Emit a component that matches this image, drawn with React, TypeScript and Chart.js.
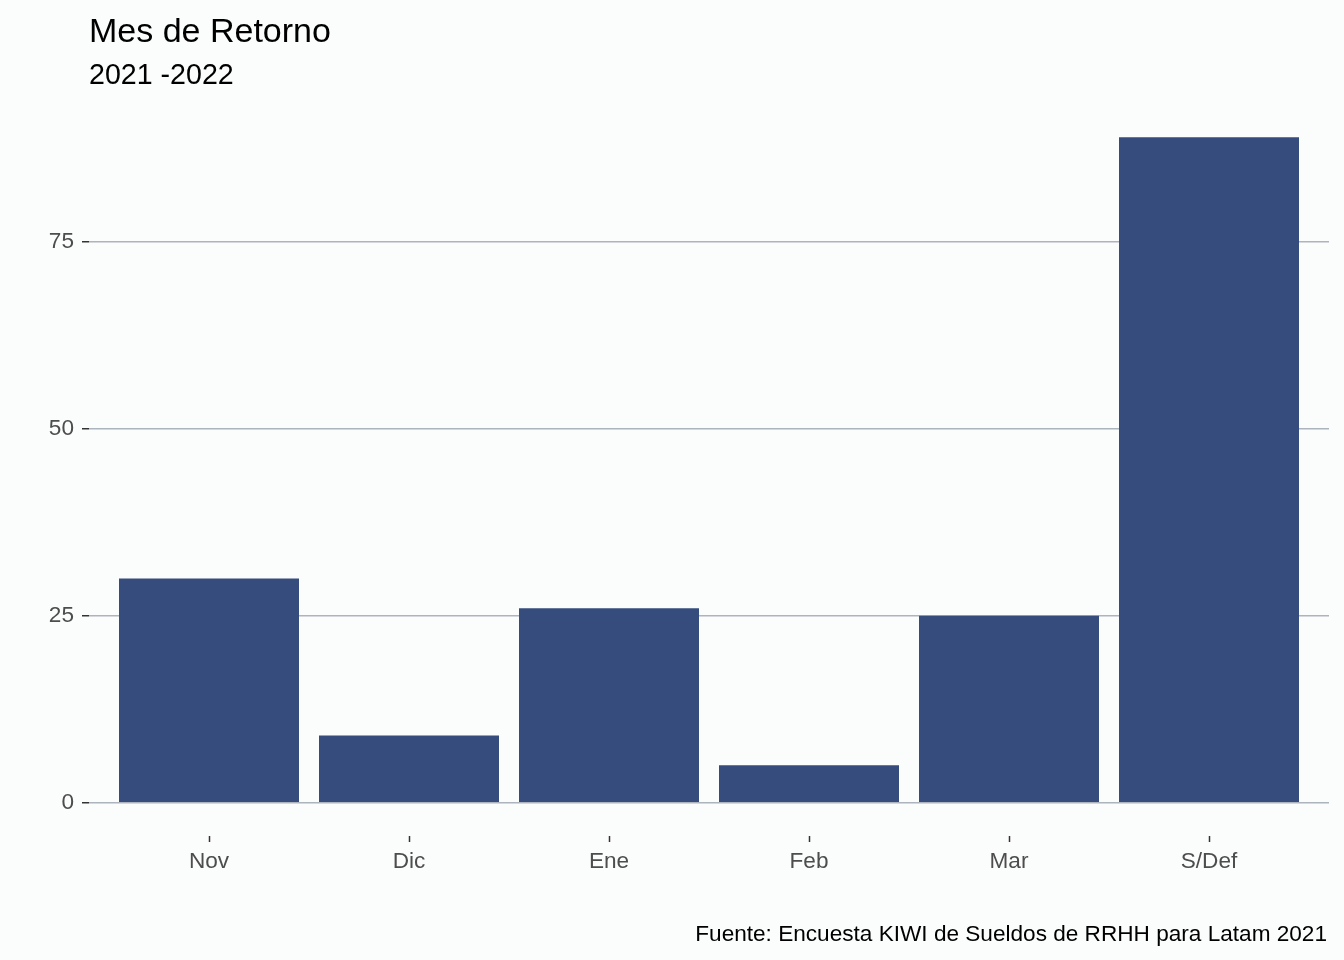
import React, { useEffect, useRef } from "react";
import { Chart, registerables } from "chart.js";

Chart.register(...registerables);

const categories = ["Nov", "Dic", "Ene", "Feb", "Mar", "S/Def"];
const values = [30, 9, 26, 5, 25, 89];
const yTickValues = [0, 25, 50, 75];
const titleText = "Mes de Retorno";
const subtitleText = "2021 -2022";
const captionText = "Fuente: Encuesta KIWI de Sueldos de RRHH para Latam 2021";

const FONT = '"Liberation Sans", Arial, Helvetica, sans-serif';
const BG = "#FBFDFC";

const textPlugin = {
  id: "ggText",
  beforeDraw(chart: any) {
    const { ctx, width, height } = chart;
    ctx.save();
    ctx.fillStyle = BG;
    ctx.fillRect(0, 0, width, height);
    ctx.restore();
  },
  afterDraw(chart: any) {
    const { ctx } = chart;
    const left = chart.chartArea.left;
    const right = chart.chartArea.right;
    ctx.save();
    ctx.fillStyle = "#000000";
    ctx.textBaseline = "alphabetic";
    ctx.textAlign = "left";
    ctx.font = `34px ${FONT}`;
    ctx.fillText(titleText, left, 42);
    ctx.font = `28.6px ${FONT}`;
    ctx.fillText(subtitleText, left, 84);
    ctx.textAlign = "right";
    ctx.font = `22.6px ${FONT}`;
    ctx.fillText(captionText, right - 2, 941);
    ctx.restore();
  },
};

export default function App() {
  const canvasRef = useRef<HTMLCanvasElement | null>(null);

  useEffect(() => {
    if (!canvasRef.current) return;
    const chart = new Chart(canvasRef.current, {
      type: "bar",
      data: {
        datasets: [
          {
            data: categories.map((_, i) => ({ x: i, y: values[i] })),
            backgroundColor: "#354C7C",
            borderWidth: 0,
            barPercentage: 0.9,
            categoryPercentage: 1.0,
          },
        ],
      },
      options: {
        responsive: false,
        animation: false,
        devicePixelRatio: 1,
        layout: { padding: { left: 0, right: 15, top: 104, bottom: 0 } },
        plugins: {
          legend: { display: false },
          tooltip: { enabled: false },
          title: { display: false },
        },
        scales: {
          x: {
            type: "linear",
            min: -0.6,
            max: 5.6,
            offset: false,
            afterBuildTicks: (scale: any) => {
              scale.ticks = categories.map((_, i) => ({ value: i }));
            },
            afterFit: (scale: any) => {
              scale.height = 124;
            },
            border: { display: false },
            grid: {
              offset: false,
              drawOnChartArea: false,
              drawTicks: true,
              tickLength: 6,
              tickColor: "#333333",
              tickWidth: 1.5,
            },
            ticks: {
              autoSkip: false,
              maxRotation: 0,
              padding: 6,
              color: "#4D4D4D",
              font: { family: FONT, size: 22.6 },
              callback: (v: any) => categories[v as number] ?? "",
            },
          },
          y: {
            type: "linear",
            min: -4.45,
            max: 93.45,
            afterBuildTicks: (scale: any) => {
              scale.ticks = yTickValues.map((v) => ({ value: v }));
            },
            afterFit: (scale: any) => {
              scale.width = 89;
            },
            border: { display: false },
            grid: {
              color: "#AEB4BD",
              lineWidth: 1.5,
              drawTicks: true,
              tickLength: 7,
              tickColor: "#333333",
              tickWidth: 1.5,
            },
            ticks: {
              padding: 8,
              color: "#4D4D4D",
              font: { family: FONT, size: 22.6 },
            },
          },
        },
      },
      plugins: [textPlugin],
    } as any);
    return () => chart.destroy();
  }, []);

  return (
    <div style={{ position: "absolute", left: 0, top: 0, width: 1344, height: 960, background: BG }}>
      <canvas ref={canvasRef} width={1344} height={960} />
    </div>
  );
}
